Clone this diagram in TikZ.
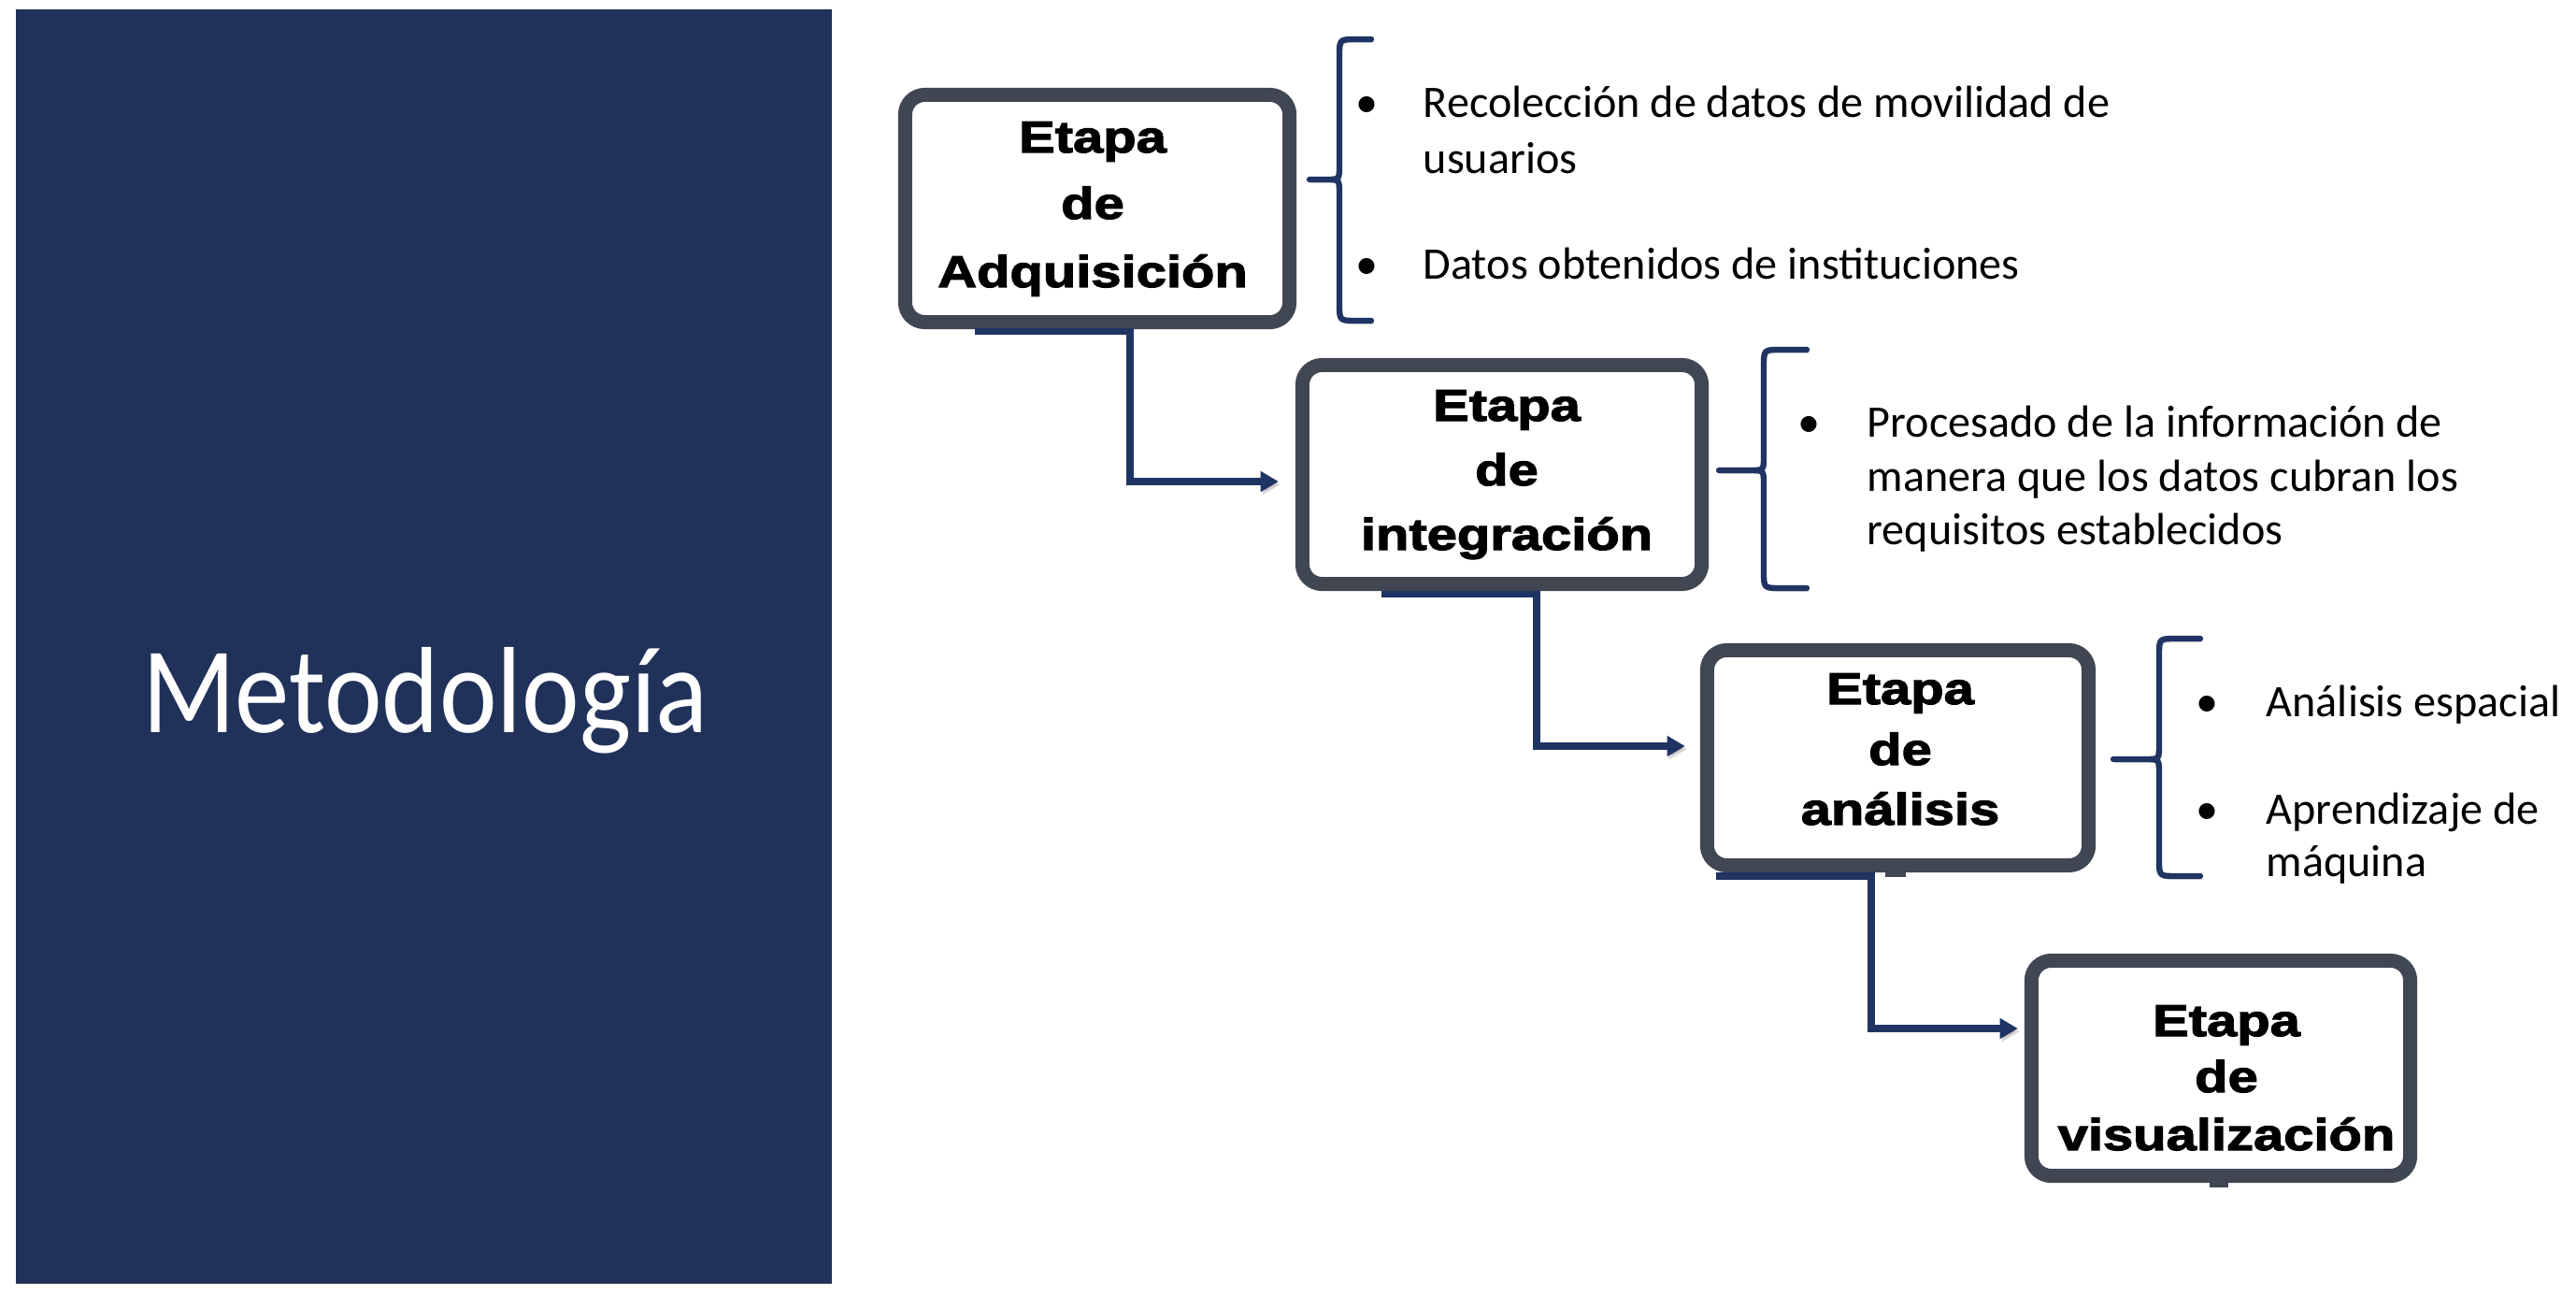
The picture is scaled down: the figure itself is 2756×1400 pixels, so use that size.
\documentclass[tikz,border=0pt]{standalone}
\usepackage{fontspec}
\usetikzlibrary{calc,arrows.meta,shadows}
\newfontfamily\boxfont{Liberation Sans}[FakeStretch=1.22,FakeBold=2.6]
\newfontfamily\bodyfont{Carlito}
\newfontfamily\titlefont{Carlito}[FakeStretch=0.89]
\definecolor{panel}{RGB}{33,50,90}
\definecolor{navy}{RGB}{31,52,99}
\definecolor{boxgray}{RGB}{64,71,82}
\begin{document}
\begin{tikzpicture}[x=0.01cm,y=-0.01cm,
  stagebox/.style={draw=boxgray, line width=4.27pt, fill=white, rounded corners=6pt, inner sep=0pt,
    drop shadow={shadow xshift=0.6pt, shadow yshift=-0.9pt, opacity=0.3}},
  stagetext/.style={anchor=base, inner sep=0pt, font=\boxfont\bfseries\fontsize{13.5}{16}\selectfont},
  itemtext/.style={anchor=base west, inner sep=0pt, font=\bodyfont\fontsize{13.7}{16}\selectfont},
  bullet/.style={anchor=base, inner sep=0pt, font=\bodyfont\fontsize{13.7}{16}\selectfont},
  conn/.style={draw=navy, line width=2.1pt, -{Triangle[length=5.5pt,width=6pt]},
    preaction={draw=black!60, opacity=0.25, transform canvas={shift={(0.6pt,-0.9pt)}}}},
  bracestyle/.style={draw=navy, line width=1.8pt, line cap=round, line join=round,
    preaction={draw=black!60, opacity=0.25, transform canvas={shift={(0.6pt,-0.9pt)}}}},
  notch/.style={fill=boxgray}]
\useasboundingbox (0,0) rectangle (2756,1400);
\fill[white] (0,0) rectangle (2756,1400);
% left panel
\fill[panel] (17,10) rectangle (890,1373);
\node[anchor=base, inner sep=0pt, text=white, font=\titlefont\fontsize{37.3}{40}\selectfont] (title) at (455,783) {Metodología};

% stage boxes
\node[stagebox, minimum width=4.11cm, minimum height=2.43cm] (box1) at (1174,223) {};
\node[stagebox, minimum width=4.27cm, minimum height=2.34cm] (box2) at (1607,507.5) {};
\node[stagebox, minimum width=4.08cm, minimum height=2.30cm] (box3) at (2030.5,810.5) {};
\node[stagebox, minimum width=4.05cm, minimum height=2.30cm] (box4) at (2376,1142.5) {};

\node[stagetext] (b1a) at (1169,163) {Etapa};
\node[stagetext] (b1b) at (1169,234) {de};
\node[stagetext] (b1c) at (1169,307) {Adquisición};
\node[stagetext] (b2a) at (1612,450) {Etapa};
\node[stagetext] (b2b) at (1612,519) {de};
\node[stagetext] (b2c) at (1612,588) {integración};
\node[stagetext] (b3a) at (2033,753) {Etapa};
\node[stagetext] (b3b) at (2033,818) {de};
\node[stagetext] (b3c) at (2033,882) {análisis};
\node[stagetext] (b4a) at (2382,1108) {Etapa};
\node[stagetext] (b4b) at (2382,1168) {de};
\node[stagetext] (b4c) at (2382,1230) {visualización};

% notches
\fill[notch] (1163,350) rectangle (1180,356);
\fill[notch] (2017,931) rectangle (2039,938);
\fill[notch] (2364,1263) rectangle (2384,1270);

% connectors
\draw[conn] ($(box1.south)+(-131,2.5)$) -- ++(166,0) |- ($(box2.west)+(-18,7.5)$);
\draw[conn] ($(box2.south)+(-129,3.5)$) -- ++(166,0) |- ($(box3.west)+(-16,-12.5)$);
\draw[conn] ($(box3.south)+(-194.5,4)$) -- ++(166,0) |- ($(box4.west)+(-7,-42.5)$);

% braces
\draw[bracestyle] (1467,42) -- (1451,42) .. controls (1433,42) .. (1433,60) -- (1433,177)
  .. controls (1433,192) .. (1418,192) -- (1401,192) -- (1418,192)
  .. controls (1433,192) .. (1433,207) -- (1433,325) .. controls (1433,343) .. (1451,343) -- (1467,343);
\draw[bracestyle] (1933,374) -- (1905,374) .. controls (1887,374) .. (1887,392) -- (1887,488)
  .. controls (1887,503) .. (1872,503) -- (1839,503) -- (1872,503)
  .. controls (1887,503) .. (1887,518) -- (1887,611) .. controls (1887,629) .. (1905,629) -- (1933,629);
\draw[bracestyle] (2354,683) -- (2328,683) .. controls (2310,683) .. (2310,701) -- (2310,797)
  .. controls (2310,812) .. (2295,812) -- (2261,812) -- (2295,812)
  .. controls (2310,812) .. (2310,827) -- (2310,919) .. controls (2310,937) .. (2328,937) -- (2354,937);

% bullet items
\node[bullet] (p1) at (1462,126) {•};
\node[itemtext] (i1a) at (1522,126) {Recolección de datos de movilidad de};
\node[itemtext] (i1b) at (1522,186) {usuarios};
\node[bullet] (p2) at (1462,298) {•};
\node[itemtext] (i2a) at (1522,298) {Datos obtenidos de instituciones};

\node[bullet] (p3) at (1935,468) {•};
\node[itemtext] (i3a) at (1997,468) {Procesado de la información de};
\node[itemtext] (i3b) at (1997,525) {manera que los datos cubran los};
\node[itemtext] (i3c) at (1997,582) {requisitos establecidos};

\node[bullet] (p4) at (2361,766) {•};
\node[itemtext] (i4a) at (2424,766) {Análisis espacial};
\node[bullet] (p5) at (2361,881) {•};
\node[itemtext] (i5a) at (2424,881) {Aprendizaje de};
\node[itemtext] (i5b) at (2424,937) {máquina};
\end{tikzpicture}
\end{document}
